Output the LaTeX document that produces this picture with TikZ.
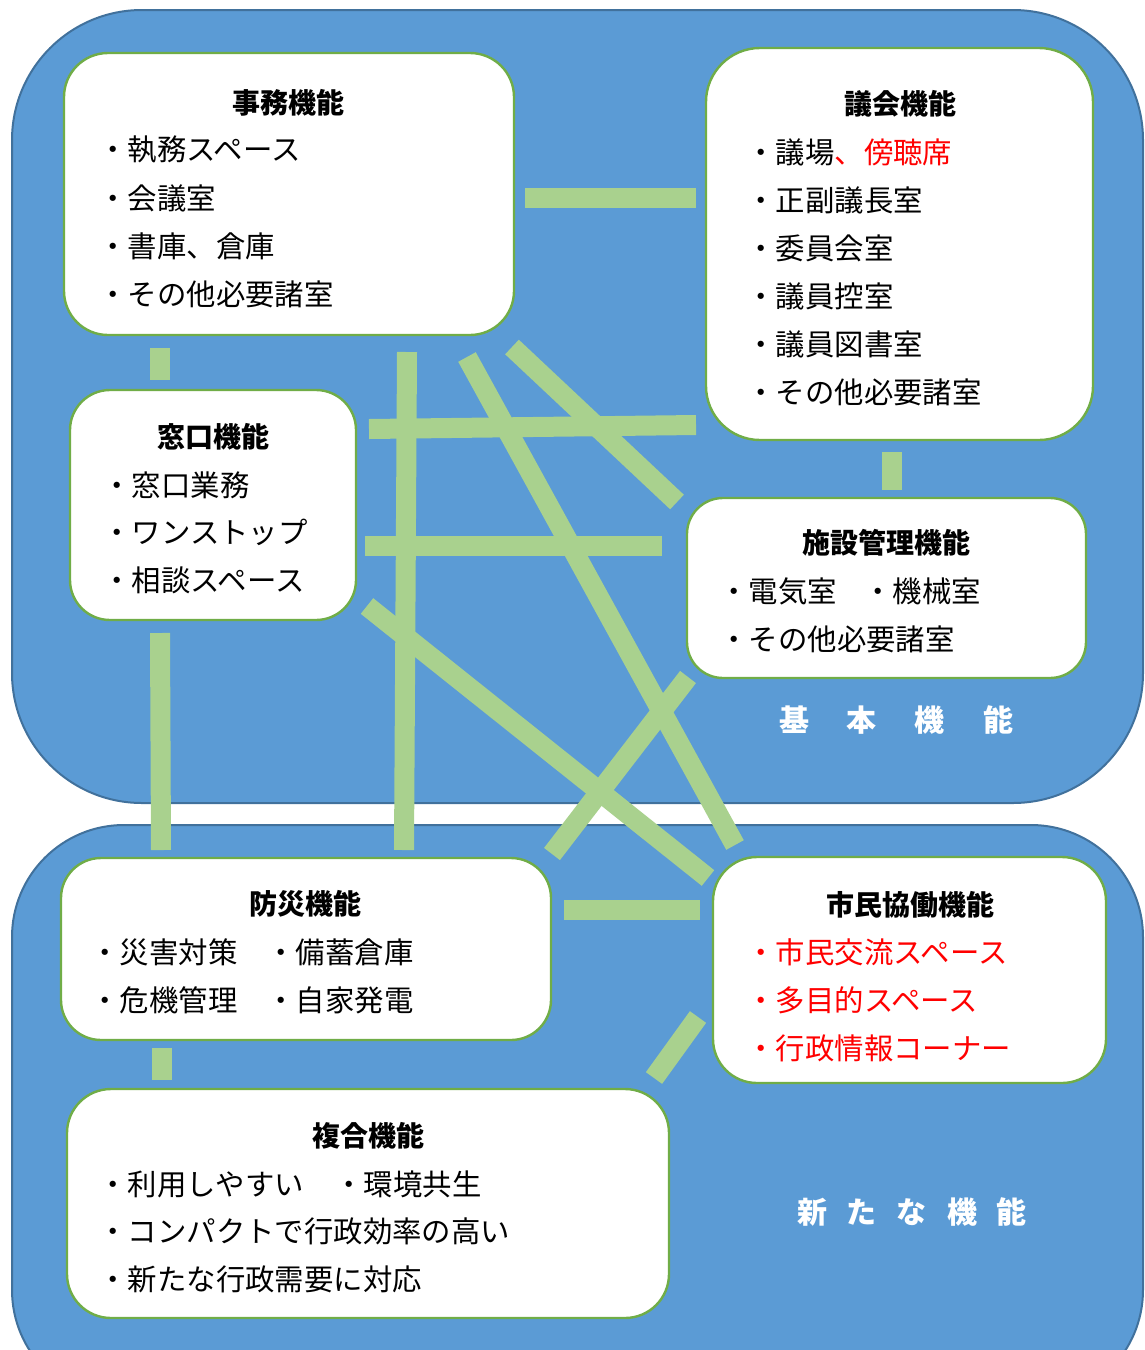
\documentclass[tikz,border=0pt]{standalone}
\usepackage{fontspec}
\setmainfont{Noto Sans CJK JP}
\definecolor{bluefill}{HTML}{5B9BD5}
\definecolor{blueedge}{HTML}{41719C}
\definecolor{boxgreen}{HTML}{70AD47}
\definecolor{linkgreen}{HTML}{A9D18E}
\definecolor{redtext}{HTML}{FF0000}
\tikzset{
  area/.style={draw=blueedge, line width=1pt, fill=bluefill},
  wbox/.style={draw=boxgreen, line width=1.2pt, fill=white, rounded corners=22pt, inner sep=0pt},
  link/.style={draw=linkgreen, line width=10pt},
  ttl/.style={font=\bfseries\fontsize{14pt}{16pt}\selectfont, anchor=center, inner sep=0pt},
  itm/.style={font=\fontsize{14.7pt}{16pt}\selectfont, anchor=west, inner sep=0pt},
  red item/.style={itm, text=redtext},
  arealabel/.style={font=\bfseries\fontsize{15pt}{17pt}\selectfont, text=white, anchor=center, inner sep=0pt}
}
\begin{document}
\begin{tikzpicture}[x=0.5pt,y=-0.5pt]
\path[use as bounding box] (0,0) rectangle (1145,1350);
\begin{scope}
\clip (0,0) rectangle (1145,1350);
% areas
\draw[area, rounded corners=65pt] (12,10) rectangle (1143,803);
\draw[area, rounded corners=56pt] (12,825) rectangle (1143,1402);

% boxes
\node[wbox, minimum width=225pt, minimum height=141pt] (jimu) at (289,194) {};
\node[wbox, minimum width=193.5pt, minimum height=196pt, rounded corners=27pt] (gikai) at (899.5,244) {};
\node[wbox, minimum width=143pt, minimum height=115pt, rounded corners=20pt] (madoguchi) at (213,505) {};
\node[wbox, minimum width=199.5pt, minimum height=90pt, rounded corners=18pt] (shisetsu) at (886.5,588) {};
\node[wbox, minimum width=245pt, minimum height=91pt, rounded corners=20pt] (bosai) at (306,949) {};
\node[wbox, minimum width=196.5pt, minimum height=113pt, rounded corners=22pt] (shimin) at (909.5,970) {};
\node[wbox, minimum width=301pt, minimum height=114.5pt, rounded corners=22pt] (fukugo) at (368,1203.5) {};

% connector end points
\coordinate (a1) at (160,348);  \coordinate (b1) at (160,380);
\coordinate (a2) at (525,198);  \coordinate (b2) at (696,198);
\coordinate (a3) at (892,452);  \coordinate (b3) at (892,490);
\coordinate (a4) at (160,633);  \coordinate (b4) at (161,850);
\coordinate (a5) at (162,1048); \coordinate (b5) at (162,1080);
\coordinate (a6) at (564,910);  \coordinate (b6) at (700,910);
\coordinate (a7) at (654,1078); \coordinate (b7) at (698,1017);
\coordinate (a8) at (407,352);  \coordinate (b8) at (404,850);
\coordinate (a9) at (369,429);  \coordinate (b9) at (696,425);
\coordinate (a10) at (365,546); \coordinate (b10) at (662,546);
\coordinate (a11) at (512,347); \coordinate (b11) at (677,502);
\coordinate (a12) at (467,357); \coordinate (b12) at (735,845);
\coordinate (a13) at (367,606); \coordinate (b13) at (708,878);
\coordinate (a14) at (688,677); \coordinate (b14) at (552,854);

\foreach \i in {1,...,14} { \draw[link] (a\i) -- (b\i); }

% texts: 事務機能
\node[ttl] (t1) at (288,103) {事務機能};
\node[itm] (t1a) at (98,150) {・執務スペース};
\node[itm] (t1b) at (98,198) {・会議室};
\node[itm] (t1c) at (98,246) {・書庫、倉庫};
\node[itm] (t1d) at (98,294) {・その他必要諸室};
% 議会機能
\node[ttl] (t2) at (900,104) {議会機能};
\node[itm] (t2a) at (746,152) {・議場\textcolor{redtext}{、傍聴席}};
\node[itm] (t2b) at (746,200) {・正副議長室};
\node[itm] (t2c) at (746,248) {・委員会室};
\node[itm] (t2d) at (746,296) {・議員控室};
\node[itm] (t2e) at (746,344) {・議員図書室};
\node[itm] (t2f) at (746,392) {・その他必要諸室};
% 窓口機能
\node[ttl] (t3) at (213,437) {窓口機能};
\node[itm] (t3a) at (102,485) {・窓口業務};
\node[itm] (t3b) at (102,532) {・ワンストップ};
\node[itm] (t3c) at (102,580) {・相談スペース};
% 施設管理機能
\node[ttl] (t4) at (886,543) {施設管理機能};
\node[itm] (t4a) at (719,591) {・電気室};
\node[itm] (t4b) at (863,591) {・機械室};
\node[itm] (t4c) at (719,639) {・その他必要諸室};
% 基本機能
\node[arealabel] (l1) at (896,720) {基\hspace{19pt}本\hspace{19pt}機\hspace{19pt}能};
% 防災機能
\node[ttl] (t6) at (305,904) {防災機能};
\node[itm] (t6a) at (90,952) {・災害対策};
\node[itm] (t6b) at (266,952) {・備蓄倉庫};
\node[itm] (t6c) at (90,1000) {・危機管理};
\node[itm] (t6d) at (266,1000) {・自家発電};
% 市民協働機能
\node[ttl] (t7) at (910,905) {市民協働機能};
\node[red item] (t7a) at (746,952) {・市民交流スペース};
\node[red item] (t7b) at (746,1000) {・多目的スペース};
\node[red item] (t7c) at (746,1048) {・行政情報コーナー};
% 複合機能
\node[ttl] (t8) at (368,1136) {複合機能};
\node[itm] (t8a) at (98,1184) {・利用しやすい};
\node[itm] (t8b) at (334,1184) {・環境共生};
\node[itm] (t8c) at (98,1231) {・コンパクトで行政効率の高い};
\node[itm] (t8d) at (98,1279) {・新たな行政需要に対応};
% 新たな機能
\node[arealabel] (l2) at (912,1212) {新\hspace{10pt}た\hspace{10pt}な\hspace{10pt}機\hspace{10pt}能};
\end{scope}
\end{tikzpicture}
\end{document}
